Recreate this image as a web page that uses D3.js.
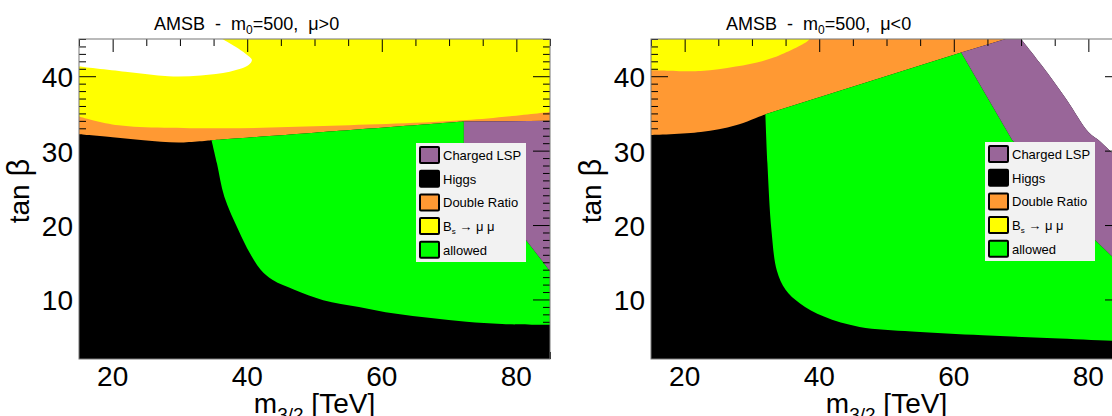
<!DOCTYPE html>
<html>
<head>
<meta charset="utf-8">
<script src="https://cdn.jsdelivr.net/npm/d3@7"></script>
<style>
  body { margin: 0; background: #fff; }
  svg { display: block; font-family: "Liberation Sans", Arial, Helvetica, sans-serif; }
  text { white-space: pre; }
</style>
</head>
<body>
<svg id="chart" width="1112" height="416"></svg>
<script>
// Axis ranges and labelled ticks
const mRange = [15, 85];          // m_3/2 [TeV]
const tanbRange = [2, 45];        // tan beta
const mTickLabels = [20, 40, 60, 80];
const tanbTickLabels = [10, 20, 30, 40];

// Region boundaries, [m_3/2, tan beta] — mu > 0
const posHiggsTop    = [[15, 32.2], [20, 31.8], [24.6, 31.4], [29.9, 31.1], [34.7, 31.4]];
const posAllowedTop  = [[34.7, 31.4], [50, 32.4], [72.2, 33.9]];
const posChargedTop  = [[72.2, 33.9], [85, 34.0]];
const posBsEdge      = [[15, 34.6], [20.9, 33.4], [35.3, 33.0], [51.3, 33.3], [72.6, 34.1], [85, 35.2]];
const posOpenEdge    = [[15, 41.3], [21.9, 40.6], [28.3, 40.0], [33.1, 40.1], [37.4, 40.6], [40.2, 41.5],
                        [40.7, 42.2], [39.8, 43.0], [38.2, 44.0], [36.3, 45]];
const posHiggsEdge   = [[34.7, 31.4], [35.5, 28.3], [36.6, 23.8], [38.7, 19.3], [40.4, 16.2], [42.0, 14.0],
                        [43.8, 12.6], [47.0, 11.3], [51.3, 9.9], [56.6, 9.0], [61.9, 8.1], [67.3, 7.5],
                        [72.6, 7.0], [77.9, 6.7], [85, 6.6]];
const posChargedEdge = [[72.2, 33.9], [72.2, 28.7], [84.0, 15.0], [85, 13.8]];

// Region boundaries, [m_3/2, tan beta] — mu < 0
const negHiggsTop    = [[15, 32.1], [22.4, 32.5], [27.6, 33.4], [32.0, 34.9]];
const negAllowedTop  = [[32.0, 34.9], [61.1, 43.2]];
const negChargedTop  = [[61.1, 43.2], [67.7, 45]];
const negBsEdge      = [[15, 40.8], [22.4, 40.7], [27.6, 41.3], [32.9, 42.4], [38.1, 44.6], [38.6, 45]];
const negOpenEdge    = [[70.0, 45], [73.2, 41.3], [76.8, 36.8], [80.0, 32.5], [81.8, 31.2], [83.5, 29.7], [85, 28.4]];
const negHiggsEdge   = [[32.0, 34.9], [32.3, 28.3], [32.9, 19.3], [33.7, 13.9], [35.0, 11.3], [37.1, 9.5],
                        [40.7, 7.7], [46.0, 6.3], [53.8, 5.7], [64.3, 5.2], [74.8, 4.8], [85, 4.4]];
const negChargedEdge = [[61.1, 43.2], [68.7, 31.4], [72.6, 28.3], [81.0, 18.0], [83.5, 15.8], [85, 14.5]];

// Legend
const legendLabels = ["Charged LSP", "Higgs", "Double Ratio", "Bs", "allowed"];
const legendColors = ["#996699", "#000000", "#ff9933", "#ffff00", "#00ff00"];

const C = { charged: "#996699", higgs: "#000000", ratio: "#ff9933", bs: "#ffff00", allowed: "#00ff00", open: "#ffffff" };

const panels = [
  { x0: 79, sign: ">", higgsTop: posHiggsTop, allowedTop: posAllowedTop, chargedTop: posChargedTop,
    bsEdge: posBsEdge, openEdge: posOpenEdge, higgsEdge: posHiggsEdge, chargedEdge: posChargedEdge, mu: "pos" },
  { x0: 651, sign: "<", higgsTop: negHiggsTop, allowedTop: negAllowedTop, chargedTop: negChargedTop,
    bsEdge: negBsEdge, openEdge: negOpenEdge, higgsEdge: negHiggsEdge, chargedEdge: negChargedEdge, mu: "neg" }
];

const W = 471, H = 320, TOP = 39;
const svg = d3.select("#chart");
const smooth = d3.curveCatmullRom.alpha(0.5);

panels.forEach((p, i) => {
  const x = d3.scaleLinear().domain(mRange).range([0, W]);
  const y = d3.scaleLinear().domain(tanbRange).range([H, 0]);
  const seg = (pts, curve) => d3.line().x(d => x(d[0])).y(d => y(d[1])).curve(curve || d3.curveLinear)(pts);
  // closed outline built from boundary pieces, each with its own interpolation
  const outline = parts => parts.map((pc, k) => {
    const s = seg(pc[0], pc[1]);
    return k ? s.replace(/^M/, "L") : s;
  }).join("") + "Z";
  const rev = a => a.slice().reverse();
  const [m0, m1] = mRange, [t0, t1] = tanbRange;

  const g = svg.append("g").attr("transform", `translate(${p.x0},${TOP})`);
  const clipId = "clip" + i;
  g.append("clipPath").attr("id", clipId).append("rect").attr("width", W).attr("height", H);
  const area = g.append("g").attr("clip-path", `url(#${clipId})`);

  // Higgs-excluded region fills everything underneath
  area.append("rect").attr("width", W).attr("height", H).attr("fill", C.higgs);

  // Double ratio band: everything above the Higgs / allowed / charged-LSP tops
  const ratioClose = p.mu === "pos" ? [[m1, t1], [m0, t1]] : [[m0, t1]];
  area.append("path").attr("fill", C.ratio).attr("d", outline([
    [p.higgsTop, smooth], [p.allowedTop, smooth], [p.chargedTop], [ratioClose]]));

  // Bs -> mu mu region
  const bsClose = p.mu === "pos" ? [[m1, t1], [m0, t1]] : [[m0, t1]];
  area.append("path").attr("fill", C.bs).attr("d", outline([[p.bsEdge, smooth], [bsClose]]));

  // Open (unfilled) region
  const openClose = p.mu === "pos" ? [[m0, t1]] : [[m1, t1]];
  area.append("path").attr("fill", C.open).attr("d", outline([[p.openEdge, smooth], [openClose]]));

  // Allowed region
  const lastCh = p.chargedEdge[p.chargedEdge.length - 1];
  const lastH = p.higgsEdge[p.higgsEdge.length - 1];
  area.append("path").attr("fill", C.allowed).attr("d", outline([
    [p.allowedTop, smooth], [p.chargedEdge], [[[m1, lastCh[1]], [m1, lastH[1]]]], [rev(p.higgsEdge), smooth]]));

  // Charged LSP region
  const chargedParts = p.mu === "pos"
    ? [[p.chargedTop], [[[m1, lastCh[1]]]], [rev(p.chargedEdge)]]
    : [[p.chargedTop], [p.openEdge, smooth], [rev(p.chargedEdge)]];
  area.append("path").attr("fill", C.charged).attr("d", outline(chargedParts));

  // Axes with ticks pointing into the frame
  const styleAxis = sel => {
    sel.select(".domain").remove();
    sel.selectAll(".tick line").attr("stroke", "#000").attr("stroke-width", 1);
    sel.attr("font-family", null).attr("font-size", null);
  };
  const mMinor = d3.range(15, 86, 5).filter(v => !mTickLabels.includes(v));
  const tMinor = d3.range(3, 46, 1).filter(v => !tanbTickLabels.includes(v));

  g.append("g").attr("transform", `translate(0,${H})`)
    .call(d3.axisBottom(x).tickValues(mMinor).tickSize(-7).tickFormat("")).call(styleAxis);
  g.append("g").call(d3.axisTop(x).tickValues(mMinor).tickSize(-7).tickFormat("")).call(styleAxis);
  g.append("g").attr("transform", `translate(0,${H})`)
    .call(d3.axisTop(x).tickValues(mTickLabels).tickSize(13).tickFormat("")).call(styleAxis);
  g.append("g").call(d3.axisTop(x).tickValues(mTickLabels).tickSize(-13).tickFormat("")).call(styleAxis);

  g.append("g").call(d3.axisLeft(y).tickValues(tMinor).tickSize(-7).tickFormat("")).call(styleAxis);
  g.append("g").attr("transform", `translate(${W},0)`)
    .call(d3.axisRight(y).tickValues(tMinor).tickSize(-7).tickFormat("")).call(styleAxis);
  g.append("g").call(d3.axisLeft(y).tickValues(tanbTickLabels).tickSize(-17).tickFormat("")).call(styleAxis);
  g.append("g").attr("transform", `translate(${W},0)`)
    .call(d3.axisRight(y).tickValues(tanbTickLabels).tickSize(-17).tickFormat("")).call(styleAxis);

  // Tick labels
  g.append("g").selectAll("text").data(mTickLabels).join("text")
    .attr("x", d => x(d)).attr("y", H + 27).attr("text-anchor", "middle")
    .attr("font-size", 28).attr("fill", "#000").text(d => d);
  g.append("g").selectAll("text").data(tanbTickLabels).join("text")
    .attr("x", -6).attr("y", d => y(d) + 11).attr("text-anchor", "end")
    .attr("font-size", 28).attr("fill", "#000").text(d => d);

  // Frame
  g.append("rect").attr("width", W).attr("height", H)
    .attr("fill", "none").attr("stroke", "#777").attr("stroke-width", 1);

  // Title
  const title = g.append("text").attr("x", 75).attr("y", -9).attr("font-size", 18).attr("fill", "#000");
  title.append("tspan").text("AMSB  -  m");
  title.append("tspan").attr("font-size", 12).attr("dy", 4).text("0");
  title.append("tspan").attr("dy", -4).text("=500,  \u03bc" + p.sign + "0");

  // Axis titles
  const xt = g.append("text").attr("x", W / 2).attr("y", H + 54).attr("text-anchor", "middle")
    .attr("font-size", 28).attr("fill", "#000");
  xt.append("tspan").text("m");
  xt.append("tspan").attr("font-size", 19).attr("dy", 8).text("3/2");
  xt.append("tspan").attr("dy", -8).text(" [TeV]");

  const yt = g.append("text").attr("transform", `translate(${-50},${152}) rotate(-90)`)
    .attr("text-anchor", "middle").attr("font-size", 28).attr("fill", "#000");
  yt.append("tspan").text("tan ");
  yt.append("tspan").attr("font-size", 31).text("\u03b2");

  // Legend
  const lg = g.append("g").attr("transform", `translate(${i === 0 ? 337 : 334},${i === 0 ? 104 : 103})`);
  lg.append("rect").attr("width", 110).attr("height", 119).attr("fill", "#f2f2f2");
  const rows = lg.selectAll("g.row").data(legendLabels).join("g")
    .attr("class", "row").attr("transform", (d, k) => `translate(0,${4 + k * 23.7})`);
  rows.append("rect").attr("x", 4).attr("y", 0).attr("width", 19).attr("height", 16)
    .attr("fill", (d, k) => legendColors[k]).attr("stroke", "#000").attr("stroke-width", 2).attr("rx", 1);
  rows.each(function (d) {
    const t = d3.select(this).append("text").attr("x", 27).attr("y", 13)
      .attr("font-size", 13).attr("fill", "#000");
    if (d === "Bs") {
      t.append("tspan").text("B");
      t.append("tspan").attr("font-size", 8).attr("dy", 3).text("s");
      t.append("tspan").attr("dy", -3).text(" \u2192 \u03bc \u03bc");
    } else {
      t.text(d);
    }
  });
});
</script>
</body>
</html>
